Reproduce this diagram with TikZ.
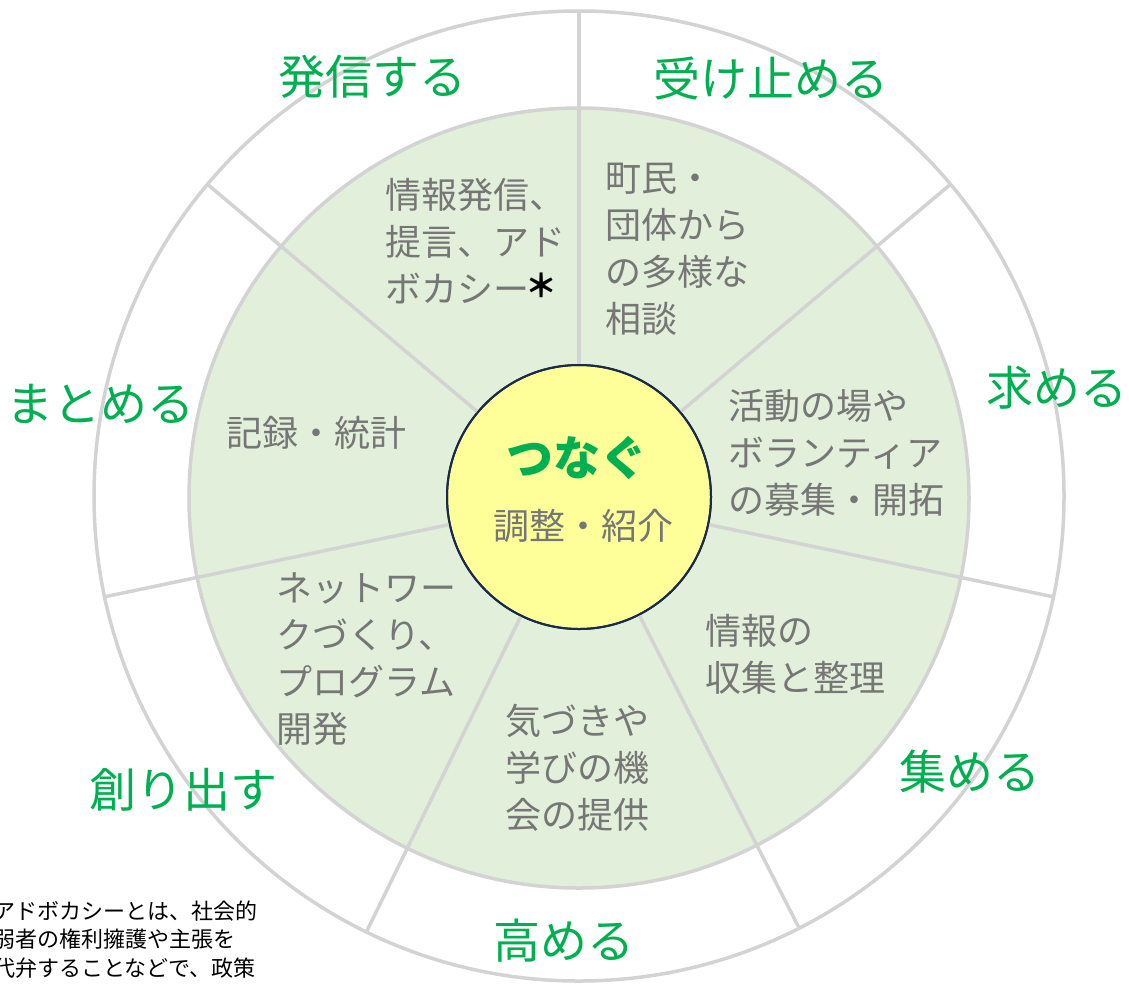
\documentclass[tikz,border=0pt]{standalone}
\usepackage{fontspec}
\newfontfamily\cjk{Noto Sans CJK JP}
\definecolor{ringgray}{HTML}{D3D3D3}
\definecolor{ringfill}{HTML}{E2EFDA}
\definecolor{coreyellow}{HTML}{FFFF99}
\definecolor{corenavy}{HTML}{1B2A4A}
\definecolor{labgreen}{HTML}{00B050}
\definecolor{txtgray}{HTML}{767676}
\begin{document}
\begin{tikzpicture}[x=1pt,y=-1pt,
  ring/.style={circle, draw=ringgray, line width=3.5pt, inner sep=0pt, outer sep=0pt},
  divider/.style={draw=ringgray, line width=3.5pt},
  verb/.style={font=\cjk\fontsize{47}{56}\selectfont, text=labgreen, inner sep=0pt},
  body/.style={font=\cjk\fontsize{36}{47}\selectfont, text=txtgray, inner sep=0pt, align=left, anchor=north west},
  note/.style={font=\cjk\fontsize{22}{28.5}\selectfont, text=black, inner sep=0pt, align=left, anchor=north west},
]
\useasboundingbox (0,0) rectangle (1129,989);
\node[ring, fill=white, minimum size=970pt] (outer) at (579,496) {};
\node[ring, fill=ringfill, minimum size=780pt] (inner) at (579,498) {};
\node[circle, fill=coreyellow, draw=corenavy, line width=2pt, minimum size=264pt, inner sep=0pt, outer sep=0pt] (core) at (579,497) {};
\foreach \a in {90,40,-12.3,-63.8,-116.3,192.3,140}
  \draw[divider] (core.\a) -- (outer.\a);
\node[circle, draw=corenavy, line width=2pt, minimum size=264pt, inner sep=0pt, outer sep=0pt] (corering) at (579,497) {};

% verbs
\node[verb] (v1) at (372,77) {発信する};
\node[verb] (v2) at (771,78) {受け止める};
\node[verb] (v3) at (1057,388) {求める};
\node[verb] (v4) at (970,772) {集める};
\node[verb] (v5) at (564,941) {高める};
\node[verb] (v6) at (183,790) {創り出す};
\node[verb] (v7) at (100,404) {まとめる};

% center
\node[inner sep=0pt, font=\cjk\bfseries\fontsize{47}{56}\selectfont, text=labgreen] (c1) at (577,458) {つなぐ};
\node[inner sep=0pt, font=\cjk\fontsize{36}{47}\selectfont, text=txtgray] (c2) at (583,526) {調整・紹介};

% body texts
\node[body] (b1) at (385,174) {\rule{0pt}{34pt}情報発信、\\提言、アド\\ボカシー\kern-4pt\raisebox{5pt}{\textcolor{black}{\bfseries\fontsize{32}{40}\selectfont ＊}}};
\node[body] (b2) at (605,157) {\rule{0pt}{34pt}町民・\\団体から\\の多様な\\相談};
\node[body] (b3) at (728,385) {\rule{0pt}{34pt}活動の場や\\ボランティア\\の募集・開拓};
\node[body] (b4) at (705,610) {\rule{0pt}{34pt}情報の\\収集と整理};
\node[body] (b5) at (505,700) {\rule{0pt}{34pt}気づきや\\学びの機\\会の提供};
\node[body] (b6) at (276,567) {\rule{0pt}{34pt}ネットワー\\クづくり、\\プログラム\\開発};
\node[body] (b7) at (226,412) {\rule{0pt}{34pt}記録・統計};

% footnote
\node[note] (n1) at (-7,899) {\rule{0pt}{20pt}アドボカシーとは、社会的\\弱者の権利擁護や主張を\\代弁することなどで、政策};
\end{tikzpicture}
\end{document}
